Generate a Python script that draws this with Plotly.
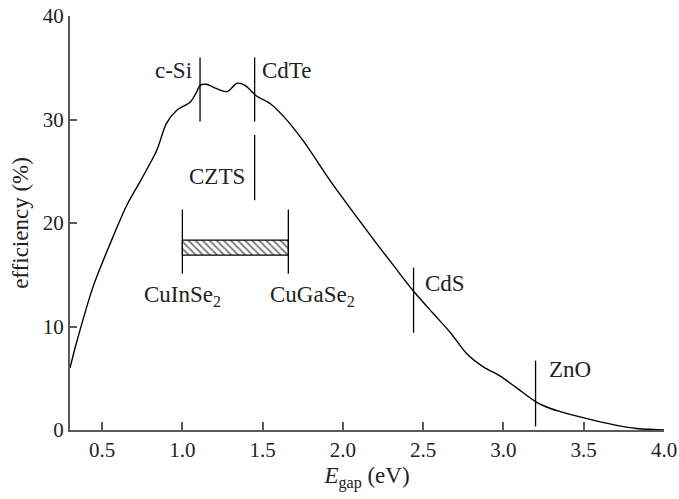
import plotly.graph_objects as go

# Efficiency curve
egap = [0.30, 0.34, 0.445, 0.55, 0.65, 0.74, 0.84, 0.90, 0.965, 1.05, 1.09, 1.11, 1.15,
        1.21, 1.28, 1.34, 1.39, 1.46, 1.55, 1.63, 1.75, 1.92, 2.09, 2.21, 2.31, 2.44,
        2.56, 2.67, 2.77, 2.875, 2.98, 3.08, 3.21, 3.29, 3.35, 3.52, 3.69, 3.83, 3.93, 4.00]
eff = [6.0, 8.4, 13.9, 18.0, 21.6, 24.1, 27.0, 29.6, 30.9, 31.7, 32.7, 33.3, 33.4,
       33.0, 32.7, 33.5, 33.3, 32.3, 31.5, 30.3, 28.0, 24.1, 20.5, 18.0, 16.0, 13.4,
       11.3, 9.4, 7.4, 6.1, 5.2, 4.1, 2.65, 2.1, 1.8, 1.1, 0.5, 0.15, 0.05, 0.0]

# Material markers: name, gap, line bottom, line top, label y
materials = ["c-Si", "CdTe", "CZTS", "CuInSe<sub>2</sub>", "CuGaSe<sub>2</sub>", "CdS", "ZnO"]
mat_gap = [1.11, 1.45, 1.45, 1.00, 1.66, 2.44, 3.20]
mat_lo = [29.8, 29.8, 22.2, 15.1, 15.1, 9.4, 0.35]
mat_hi = [36.0, 36.0, 28.5, 21.3, 21.3, 15.7, 6.7]
label_y = [34.75, 34.75, 24.5, 12.9, 12.9, 14.2, 5.8]

# CIGS range bar
cigs_lo, cigs_hi = 1.00, 1.66
cigs_bottom, cigs_top = 16.9, 18.35

x_ticks = [0.5, 1.0, 1.5, 2.0, 2.5, 3.0, 3.5, 4.0]
x_ticklabels = ["0.5", "1.0", "1.5", "2.0", "2.5", "3.0", "3.5", "4.0"]
y_ticks = [0, 10, 20, 30, 40]

FONT = "'Liberation Serif', 'Times New Roman', 'DejaVu Serif', serif"
AX = "#5a5a5a"

fig = go.Figure()

fig.add_trace(go.Scatter(
    x=egap, y=eff, mode="lines",
    line=dict(color="black", width=1.4, shape="spline", smoothing=0.8),
    hoverinfo="skip", showlegend=False))

# hatched CIGS bar
fig.add_trace(go.Scatter(
    x=[cigs_lo, cigs_hi, cigs_hi, cigs_lo, cigs_lo],
    y=[cigs_bottom, cigs_bottom, cigs_top, cigs_top, cigs_bottom],
    mode="lines", fill="toself", fillcolor="white",
    fillpattern=dict(shape="\\", size=5, solidity=0.4, fgcolor="black", bgcolor="white"),
    line=dict(color="black", width=1.2), hoverinfo="skip", showlegend=False))

for g, lo, hi in zip(mat_gap, mat_lo, mat_hi):
    fig.add_trace(go.Scatter(
        x=[g, g], y=[lo, hi], mode="lines",
        line=dict(color="black", width=1.3), hoverinfo="skip", showlegend=False))

# labels: (xanchor, xshift)
placement = [("right", -6), ("left", 5), ("right", -8), ("center", 0),
             ("left", -20), ("left", 9), ("left", 11)]
for name, g, ly, (xa, xs) in zip(materials, mat_gap, label_y, placement):
    fig.add_annotation(x=g, y=ly, text=name, showarrow=False, xanchor=xa, xshift=xs,
                       yanchor="middle", font=dict(family=FONT, size=23, color="#222"))

fig.update_layout(
    width=679, height=499,
    margin=dict(l=70, r=15, t=16, b=69),
    paper_bgcolor="white", plot_bgcolor="white",
    font=dict(family=FONT, size=21, color="#222"),
    xaxis=dict(range=[0.3, 4.0], tickvals=x_ticks, ticktext=x_ticklabels,
               ticks="inside", ticklen=8, tickwidth=1.5, tickcolor=AX, automargin=False,
               showline=True, linecolor=AX, linewidth=2, showgrid=False, zeroline=False,
               title=dict(text="<i>E</i><sub>gap</sub> (eV)", font=dict(family=FONT, size=23),
                          standoff=6)),
    yaxis=dict(range=[0, 40], tickvals=y_ticks, automargin=False,
               ticks="inside", ticklen=7, tickwidth=1.5, tickcolor=AX,
               showline=True, linecolor=AX, linewidth=2, showgrid=False, zeroline=False,
               title=dict(text="efficiency (%)", font=dict(family=FONT, size=23),
                          standoff=8)),
)

fig.write_html("out.html")
